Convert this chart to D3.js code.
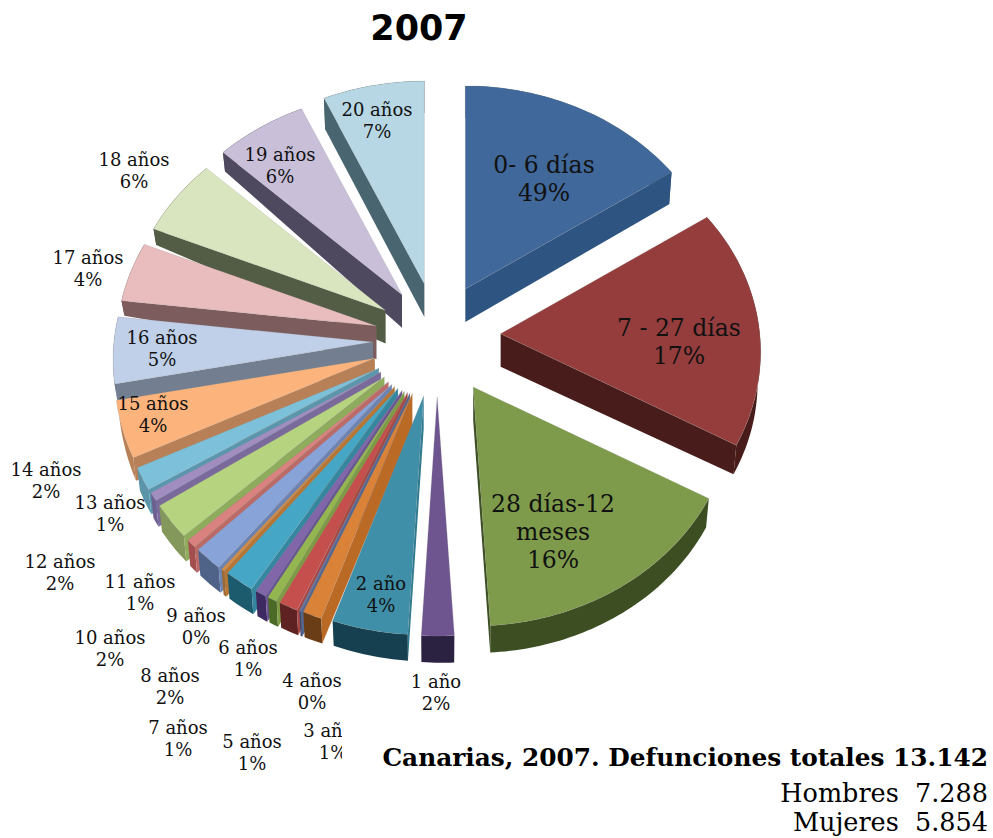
<!DOCTYPE html>
<html><head><meta charset="utf-8">
<script src="https://cdn.jsdelivr.net/npm/d3@7"></script>
<style>html,body{margin:0;padding:0;background:#fff;overflow:hidden}svg{display:block}</style>
</head><body><div id="chart"></div>
<script>
// ---- data ----
const categories = ["0- 6 días","7 - 27 días","28 días-12 meses","1 año","2 año","3 años","4 años","5 años","6 años","7 años","8 años","9 años","10 años","11 años","12 años","13 años","14 años","15 años","16 años","17 años","18 años","19 años","20 años"];
// share of the circle actually drawn by each slice
const drawnShare = [14.58,17.36,17.0,2.03,4.72,1.19,0.11,1.19,0.61,0.72,1.86,0.22,1.78,0.64,2.64,0.64,1.69,4.28,4.86,4.31,5.47,5.78,6.31];
// percentage printed on each label
const printedPct = [49,17,16,2,4,1,0,1,1,1,2,0,2,1,2,1,2,4,5,4,6,6,7];
const titleText = "2007";
const notes = ["Canarias, 2007. Defunciones totales 13.142","Hombres  7.288","Mujeres  5.854"];

// ---- styles ----
const topColors  = ["#40689a","#953e3c","#7e9b4b","#6e5590","#3f8fa8","#d98237","#6479a6","#c5504e","#94b651","#8166a9","#44a6c6","#d28c45","#87a3d7","#da8280","#b6d37f","#a18dc0","#7dc0da","#fdb37c","#c0d0e9","#e9bdbd","#d9e5be","#c9bfd9","#b7d7e4"];
const sideColors = ["#2f5582","#4a1e1c","#3e5024","#2c2040","#2f7a90","#bb6a28","#54688f","#a84442","#7d9b42","#6b5391","#34879f","#b87636","#6c84b4","#bb6a68","#8fab5c","#7a6a9c","#5a97ae","#b88056","#737f90","#7b5b5b","#525c44","#4f4860","#4a6570"];
const rimColors  = ["#2f5582","#4a1e1c","#3e5024","#2c2040","#17414f","#6a3d14","#3f4f70","#5e2022","#4c6a28","#3e2c60","#1e5a6d","#9c6a30","#4f6489","#a34e50","#85985b","#6d5e90","#5b94a9","#b88056","#737f90","#7b5b5b","#525c44","#4f4860","#4a6570"];

// ---- layout ----
const W = 993, H = 838;
const pieCentre = {x:437, y:340};
const radiusX = 260, radiusY = 221, perspectiveDrop = 18;
const explodeX = 64, explodeY = 57;
const apexDepth = 33;
const rimDepth = d3.scaleLinear()
  .domain([0,52,114,176,200,240,262,281,297,317,337,360].map(d=>d*Math.PI/180))
  .range([32,32,29,27,25,26,18,15,16,19,31,32]);
const leftSag = d3.scaleLinear().domain([0.3,0.75]).range([0,4.5]).clamp(true);

const labelLines = [["0- 6 días","49%"],["7 - 27 días","17%"],["28 días-12","meses","16%"]];
const labelPos = [[544,173,23.5],[679,336,23.5],[553,512,23.5],[436,688,18],[381,590,18],[333,737,18],[312,687,18],[252,748,18],[248,654,18],[178,734,18],[170,682,18],[196,622,18],[110,644,18],[140,588,18],[60,568,18],[110,509,18],[46,476,18],[153,410,18],[162,344,18],[88,264,18],[134,166,18],[280,161,18],[377,116,18]];

const svg = d3.select("#chart").append("svg").attr("width",W).attr("height",H);
const defs = svg.append("defs");
defs.append("clipPath").attr("id","cut3").append("rect")
  .attr("x",0).attr("y",0).attr("width",342).attr("height",H);
defs.append("filter").attr("id","soft").append("feGaussianBlur").attr("stdDeviation",0.45);

const pie = d3.pie().sort(null).value(d=>d).startAngle(0).endAngle(2*Math.PI);
const arcs = pie(drawnShare).map((a,i)=>{
  const mid = (a.startAngle+a.endAngle)/2;
  return {...a,i,mid,ax:pieCentre.x+explodeX*Math.sin(mid),
    ay:pieCentre.y-explodeY*Math.cos(mid)+leftSag(-Math.sin(mid))};
});
const rim = (s,t)=>[s.ax+radiusX*Math.sin(t), s.ay-radiusY*Math.cos(t)+perspectiveDrop];
const down = (p,t)=>[p[0]-3*Math.sin(t), p[1]+rimDepth(t)];
const line = d3.line();
const arcSamples = s=>{
  const n = Math.max(2,Math.ceil((s.endAngle-s.startAngle)/0.02));
  return d3.range(n+1).map(k=>s.startAngle+(s.endAngle-s.startAngle)*k/n);
};

const g = svg.append("g").attr("filter","url(#soft)");
// far slices first
arcs.slice().sort((p,q)=>Math.cos(q.mid)-Math.cos(p.mid)).forEach(s=>{
  const ts = arcSamples(s), i = s.i;
  const apex=[s.ax,s.ay], apexLow=[s.ax,s.ay+apexDepth];
  // curved outer wall
  const upper = ts.map(t=>rim(s,t));
  const lower = ts.map(t=>down(rim(s,t),t)).reverse();
  g.append("path").attr("d",line(upper.concat(lower))+"Z").attr("fill",rimColors[i]);
  // radial walls
  const radial = t=>{const p=rim(s,t);return line([apex,p,down(p,t),apexLow])+"Z";};
  if(Math.sin(s.startAngle)<0) g.append("path").attr("d",radial(s.startAngle)).attr("fill",sideColors[i]);
  if(Math.sin(s.endAngle)>0) g.append("path").attr("d",radial(s.endAngle)).attr("fill",sideColors[i]);
  // top face
  g.append("path").attr("d",line([apex].concat(upper))+"Z").attr("fill",topColors[i])
    .attr("stroke","#8a8a8a").attr("stroke-opacity",0.25).attr("stroke-width",0.8);
});

// slice labels
const serif = "'DejaVu Serif',serif";
categories.forEach((c,i)=>{
  const [x,y,fs] = labelPos[i];
  const lines = i<3 ? labelLines[i] : [c, printedPct[i]+"%"];
  const lh = fs>20 ? 28 : 22;
  const t = svg.append("text").attr("text-anchor","middle").attr("font-family",serif)
    .attr("font-size",fs).attr("fill","#111");
  if(categories[i]==="3 años") t.attr("clip-path","url(#cut3)");
  lines.forEach((l,k)=>t.append("tspan").attr("x",x).attr("y",y+k*lh).text(l));
});

svg.append("text").attr("x",419).attr("y",40).attr("text-anchor","middle")
  .attr("font-family","'DejaVu Sans',sans-serif").attr("font-weight","bold").attr("font-size",35).attr("fill","#000").text(titleText);
[[766,24.8,"bold"],[802,25.5,"normal"],[831,25.5,"normal"]].forEach((n,i)=>{
  svg.append("text").attr("x",988).attr("y",n[0]).attr("text-anchor","end").attr("xml:space","preserve")
    .style("white-space","pre").attr("font-family",serif).attr("font-weight",n[2]).attr("font-size",n[1]).attr("fill","#000").text(notes[i]);
});
</script></body></html>
